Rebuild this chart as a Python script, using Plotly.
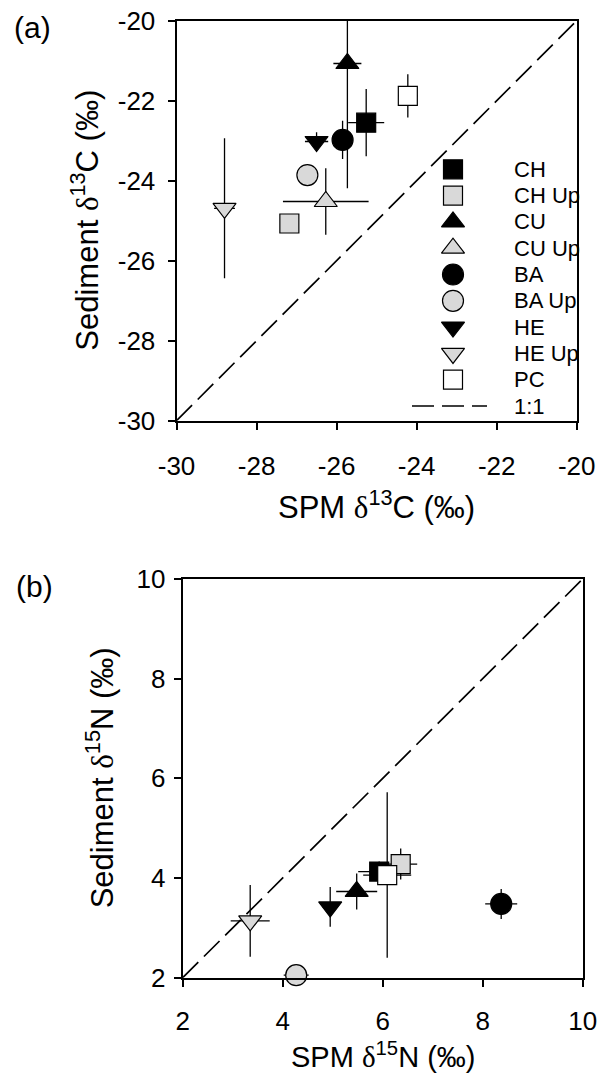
import plotly.graph_objects as go

# ---- data -------------------------------------------------------------
groups = ["CH", "CH Up", "CU", "CU Up", "BA", "BA Up", "HE", "HE Up", "PC"]

# (a) carbon: SPM vs sediment d13C, mean and error
spm_d13c = [-25.26, -27.18, -25.73, -26.27, -25.85, -26.73, -26.50, -28.80, -24.22]
spm_d13c_err = [0.45, 0.0, 0.35, 1.07, 0.15, 0.0, 0.29, 0.26, 0.24]
sed_d13c = [-22.55, -25.07, -21.07, -24.52, -22.98, -23.86, -23.02, -24.69, -21.88]
sed_d13c_err = [0.84, 0.0, 3.12, 0.83, 0.48, 0.0, 0.23, 1.75, 0.54]

# (b) nitrogen: SPM vs sediment d15N (no CU Up value)
spm_d15n = [5.93, 6.36, 5.48, None, 8.37, 4.27, 4.95, 3.35, 6.09]
spm_d15n_err = [0.42, 0.33, 0.41, None, 0.32, 0.25, 0.15, 0.39, 0.48]
sed_d15n = [4.13, 4.28, 3.73, None, 3.48, 2.05, 3.42, 3.14, 4.06]
sed_d15n_err = [0.20, 0.31, 0.36, None, 0.30, 0.10, 0.40, 0.72, 1.66]

c_range = [-30, -20]
n_range = [2, 10]
c_ticks = [-30, -28, -26, -24, -22, -20]
c_ticktext = ["-30", "-28", "-26", "-24", "-22", "-20"]
n_ticks = [2, 4, 6, 8, 10]
n_ticktext = ["2", "4", "6", "8", "10"]

# ---- styling ----------------------------------------------------------
FONT = "Liberation Sans, Arial, sans-serif"
GRAY = "#d9d9d9"
symbol_of = {"CH": "square", "CH Up": "square", "CU": "triangle-up",
             "CU Up": "triangle-up", "BA": "circle", "BA Up": "circle",
             "HE": "triangle-down", "HE Up": "triangle-down", "PC": "square"}
fill_of = {"CH": "black", "CH Up": GRAY, "CU": "black", "CU Up": GRAY,
           "BA": "black", "BA Up": GRAY, "HE": "black", "HE Up": GRAY,
           "PC": "white"}
size_of = {"square": 19, "circle": 21, "triangle-up": 20, "triangle-down": 20}
DASH = "22px,8px"

W, H = 601, 1080


def px_x(p):
    return p / W


def px_y(p):
    return 1 - p / H


# plot-area boxes in pixels (left, top, right, bottom)
box_a = (176.5, 20.7, 576.7, 420.7)
box_b = (182.7, 579.0, 582.7, 977.7)


def marker(g):
    sym = symbol_of[g]
    return dict(symbol=sym, size=size_of[sym], color=fill_of[g],
                line=dict(color="black", width=1.2))


def err(values):
    return dict(type="data", array=[values], visible=True, color="black",
                thickness=1.3, width=0)


fig = go.Figure()

# 1:1 reference lines
fig.add_trace(go.Scatter(x=c_range, y=c_range, mode="lines", xaxis="x", yaxis="y",
                         line=dict(color="black", width=1.7, dash=DASH),
                         showlegend=False, hoverinfo="skip"))
fig.add_trace(go.Scatter(x=n_range, y=n_range, mode="lines", xaxis="x2", yaxis="y2",
                         line=dict(color="black", width=1.7, dash=DASH),
                         showlegend=False, hoverinfo="skip"))

for i, g in enumerate(groups):
    fig.add_trace(go.Scatter(
        x=[spm_d13c[i]], y=[sed_d13c[i]], mode="markers", name=g,
        xaxis="x", yaxis="y", marker=marker(g),
        error_x=err(spm_d13c_err[i]), error_y=err(sed_d13c_err[i]),
        showlegend=False, cliponaxis=True))

for i, g in enumerate(groups):
    if spm_d15n[i] is None:
        continue
    fig.add_trace(go.Scatter(
        x=[spm_d15n[i]], y=[sed_d15n[i]], mode="markers", name=g,
        xaxis="x2", yaxis="y2", marker=marker(g),
        error_x=err(spm_d15n_err[i]), error_y=err(sed_d15n_err[i]),
        showlegend=False, cliponaxis=False))

# ---- key inside panel (a), laid out in fractions of the plot area ----
a_w = box_a[2] - box_a[0]
a_h = box_a[3] - box_a[1]
key_sym_x = (453 - box_a[0]) / a_w
key_txt_x = (512 - box_a[0]) / a_w
key_row0 = (169.3 - box_a[1]) / a_h
key_step = 26.3 / a_h
key_rows = [1 - (key_row0 + k * key_step) for k in range(len(groups) + 1)]

for k, g in enumerate(groups):
    fig.add_trace(go.Scatter(x=[key_sym_x], y=[key_rows[k]], mode="markers",
                             xaxis="x3", yaxis="y3", marker=marker(g),
                             showlegend=False, hoverinfo="skip", cliponaxis=False))
line_row = key_rows[len(groups)]
fig.add_trace(go.Scatter(x=[(412 - box_a[0]) / a_w, (487 - box_a[0]) / a_w],
                         y=[line_row, line_row], mode="lines", xaxis="x3", yaxis="y3",
                         line=dict(color="black", width=1.7, dash=DASH),
                         showlegend=False, hoverinfo="skip"))

annotations = []
for k, label in enumerate(groups + ["1:1"]):
    annotations.append(dict(x=key_txt_x, y=key_rows[k], xref="x3", yref="y3",
                            text=label, showarrow=False, xanchor="left",
                            yanchor="middle", font=dict(family=FONT, size=22, color="black")))

DELTA = "<span style='font-family:Liberation Serif'>δ</span>"
title_font = dict(family=FONT, size=31, color="black")
label_font = dict(family=FONT, size=30, color="black")


def paper_text(px, py, text, font, angle=0):
    return dict(x=px_x(px), y=px_y(py), xref="paper", yref="paper", text=text,
                showarrow=False, xanchor="center", yanchor="middle",
                textangle=angle, font=font)


annotations += [
    paper_text((box_a[0] + box_a[2]) / 2, 505, "SPM " + DELTA + "<sup>13</sup>C (‰)", title_font),
    paper_text(85, (box_a[1] + box_a[3]) / 2, "Sediment " + DELTA + "<sup>13</sup>C (‰)",
               title_font, -90),
    paper_text((box_b[0] + box_b[2]) / 2, 1055, "SPM " + DELTA + "<sup>15</sup>N (‰)",
               dict(title_font, size=29)),
    paper_text(100, (box_b[1] + box_b[3]) / 2, "Sediment " + DELTA + "<sup>15</sup>N (‰)",
               title_font, -90),
    paper_text(32, 28, "(a)", label_font),
    paper_text(34, 586, "(b)", label_font),
]

axis_common = dict(showgrid=False, zeroline=False, showline=True, linewidth=2,
                   linecolor="black", mirror=True, ticks="outside", ticklen=7,
                   tickwidth=1.5, tickcolor="black", automargin=False,
                   tickfont=dict(family=FONT, size=26, color="black"))

fig.update_layout(
    template="none",
    width=W, height=H, margin=dict(l=0, r=0, t=0, b=0, pad=0, autoexpand=False),
    paper_bgcolor="white", plot_bgcolor="white", showlegend=False,
    font=dict(family=FONT, color="black"),
    xaxis=dict(domain=[px_x(box_a[0]), px_x(box_a[2])], range=c_range, anchor="y",
               tickvals=c_ticks, ticktext=c_ticktext, ticklabelstandoff=14, **axis_common),
    yaxis=dict(domain=[px_y(box_a[3]), px_y(box_a[1])], range=c_range, anchor="x",
               tickvals=c_ticks, ticktext=c_ticktext, ticklabelstandoff=7, **axis_common),
    xaxis2=dict(domain=[px_x(box_b[0]), px_x(box_b[2])], range=n_range, anchor="y2",
                tickvals=n_ticks, ticktext=n_ticktext, ticklabelstandoff=12, **axis_common),
    yaxis2=dict(domain=[px_y(box_b[3]), px_y(box_b[1])], range=n_range, anchor="x2",
                tickvals=n_ticks, ticktext=n_ticktext, ticklabelstandoff=3, **axis_common),
    xaxis3=dict(overlaying="x", anchor="y3", range=[0, 1], visible=False, automargin=False),
    yaxis3=dict(overlaying="y", anchor="x3", range=[0, 1], visible=False, automargin=False),
    annotations=annotations,
)

fig.write_html("out.html")
